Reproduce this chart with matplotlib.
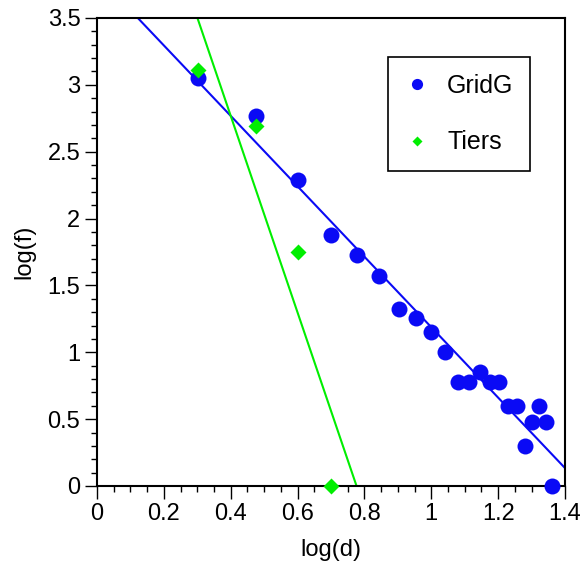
import numpy as np
import matplotlib
matplotlib.use("Agg")
import matplotlib.pyplot as plt
from matplotlib.ticker import MultipleLocator, FuncFormatter

# GridG: log(d) vs log(f)
gridg_x = [0.301, 0.477, 0.602, 0.699, 0.778, 0.845, 0.903, 0.954, 1.000, 1.041,
           1.079, 1.114, 1.146, 1.176, 1.204, 1.230, 1.255, 1.279, 1.301, 1.322,
           1.342, 1.362]
gridg_y = [3.05, 2.77, 2.29, 1.88, 1.73, 1.57, 1.32, 1.26, 1.15, 1.00,
           0.78, 0.78, 0.85, 0.78, 0.78, 0.60, 0.60, 0.30, 0.48, 0.60,
           0.48, 0.00]

# Tiers
tiers_x = [0.301, 0.477, 0.602, 0.699]
tiers_y = [3.11, 2.69, 1.75, 0.00]

plt.rcParams['font.family'] = ['Liberation Sans', 'DejaVu Sans']
plt.rcParams['font.size'] = 17

fig = plt.figure(figsize=(5.85, 5.77), dpi=100)
ax = fig.add_axes([97 / 585, 1 - 486 / 577, (565 - 97) / 585, (486 - 18) / 577])

blue = "#0a0af5"
green = "#00ee00"

# least squares fit lines
xx = np.array([0.0, 1.4])
bfit = np.polyfit(gridg_x, gridg_y, 1)
gfit = np.polyfit(tiers_x, tiers_y, 1)
ax.plot(xx, np.polyval(bfit, xx), color=blue, lw=1.5, zorder=2)
ax.plot(xx, np.polyval(gfit, xx), color=green, lw=1.5, zorder=2)

ax.plot(gridg_x, gridg_y, 'o', color=blue, ms=11.5, mec='none', label='GridG',
        zorder=3, clip_on=False)
ax.plot(tiers_x, tiers_y, 'D', color=green, ms=8, mec='none', label='Tiers',
        zorder=4, clip_on=False)

ax.set_xlim(0, 1.4)
ax.set_ylim(0, 3.5)
ax.xaxis.set_major_locator(MultipleLocator(0.2))
ax.xaxis.set_minor_locator(MultipleLocator(0.05))
ax.yaxis.set_major_locator(MultipleLocator(0.5))
ax.yaxis.set_minor_locator(MultipleLocator(0.1))
fmt = FuncFormatter(lambda v, p: '%g' % round(v, 2))
ax.xaxis.set_major_formatter(fmt)
ax.yaxis.set_major_formatter(fmt)
ax.tick_params(which='major', direction='out', length=9, width=1, pad=3)
ax.tick_params(which='minor', direction='out', length=4.5, width=1)
for s in ax.spines.values():
    s.set_linewidth(1.5)

ax.set_xlabel('log(d)', labelpad=10)
ax.set_ylabel('log(f)', labelpad=9)

leg = ax.legend(loc='upper left', bbox_to_anchor=(0.622, 0.917), borderaxespad=0,
                fontsize=18, markerscale=0.7, fancybox=False, edgecolor='black',
                framealpha=1, labelspacing=1.3, handletextpad=0.7, borderpad=0.68,
                handlelength=0.98)
leg.get_frame().set_linewidth(1.2)

fig.savefig("out.png", dpi=100)
